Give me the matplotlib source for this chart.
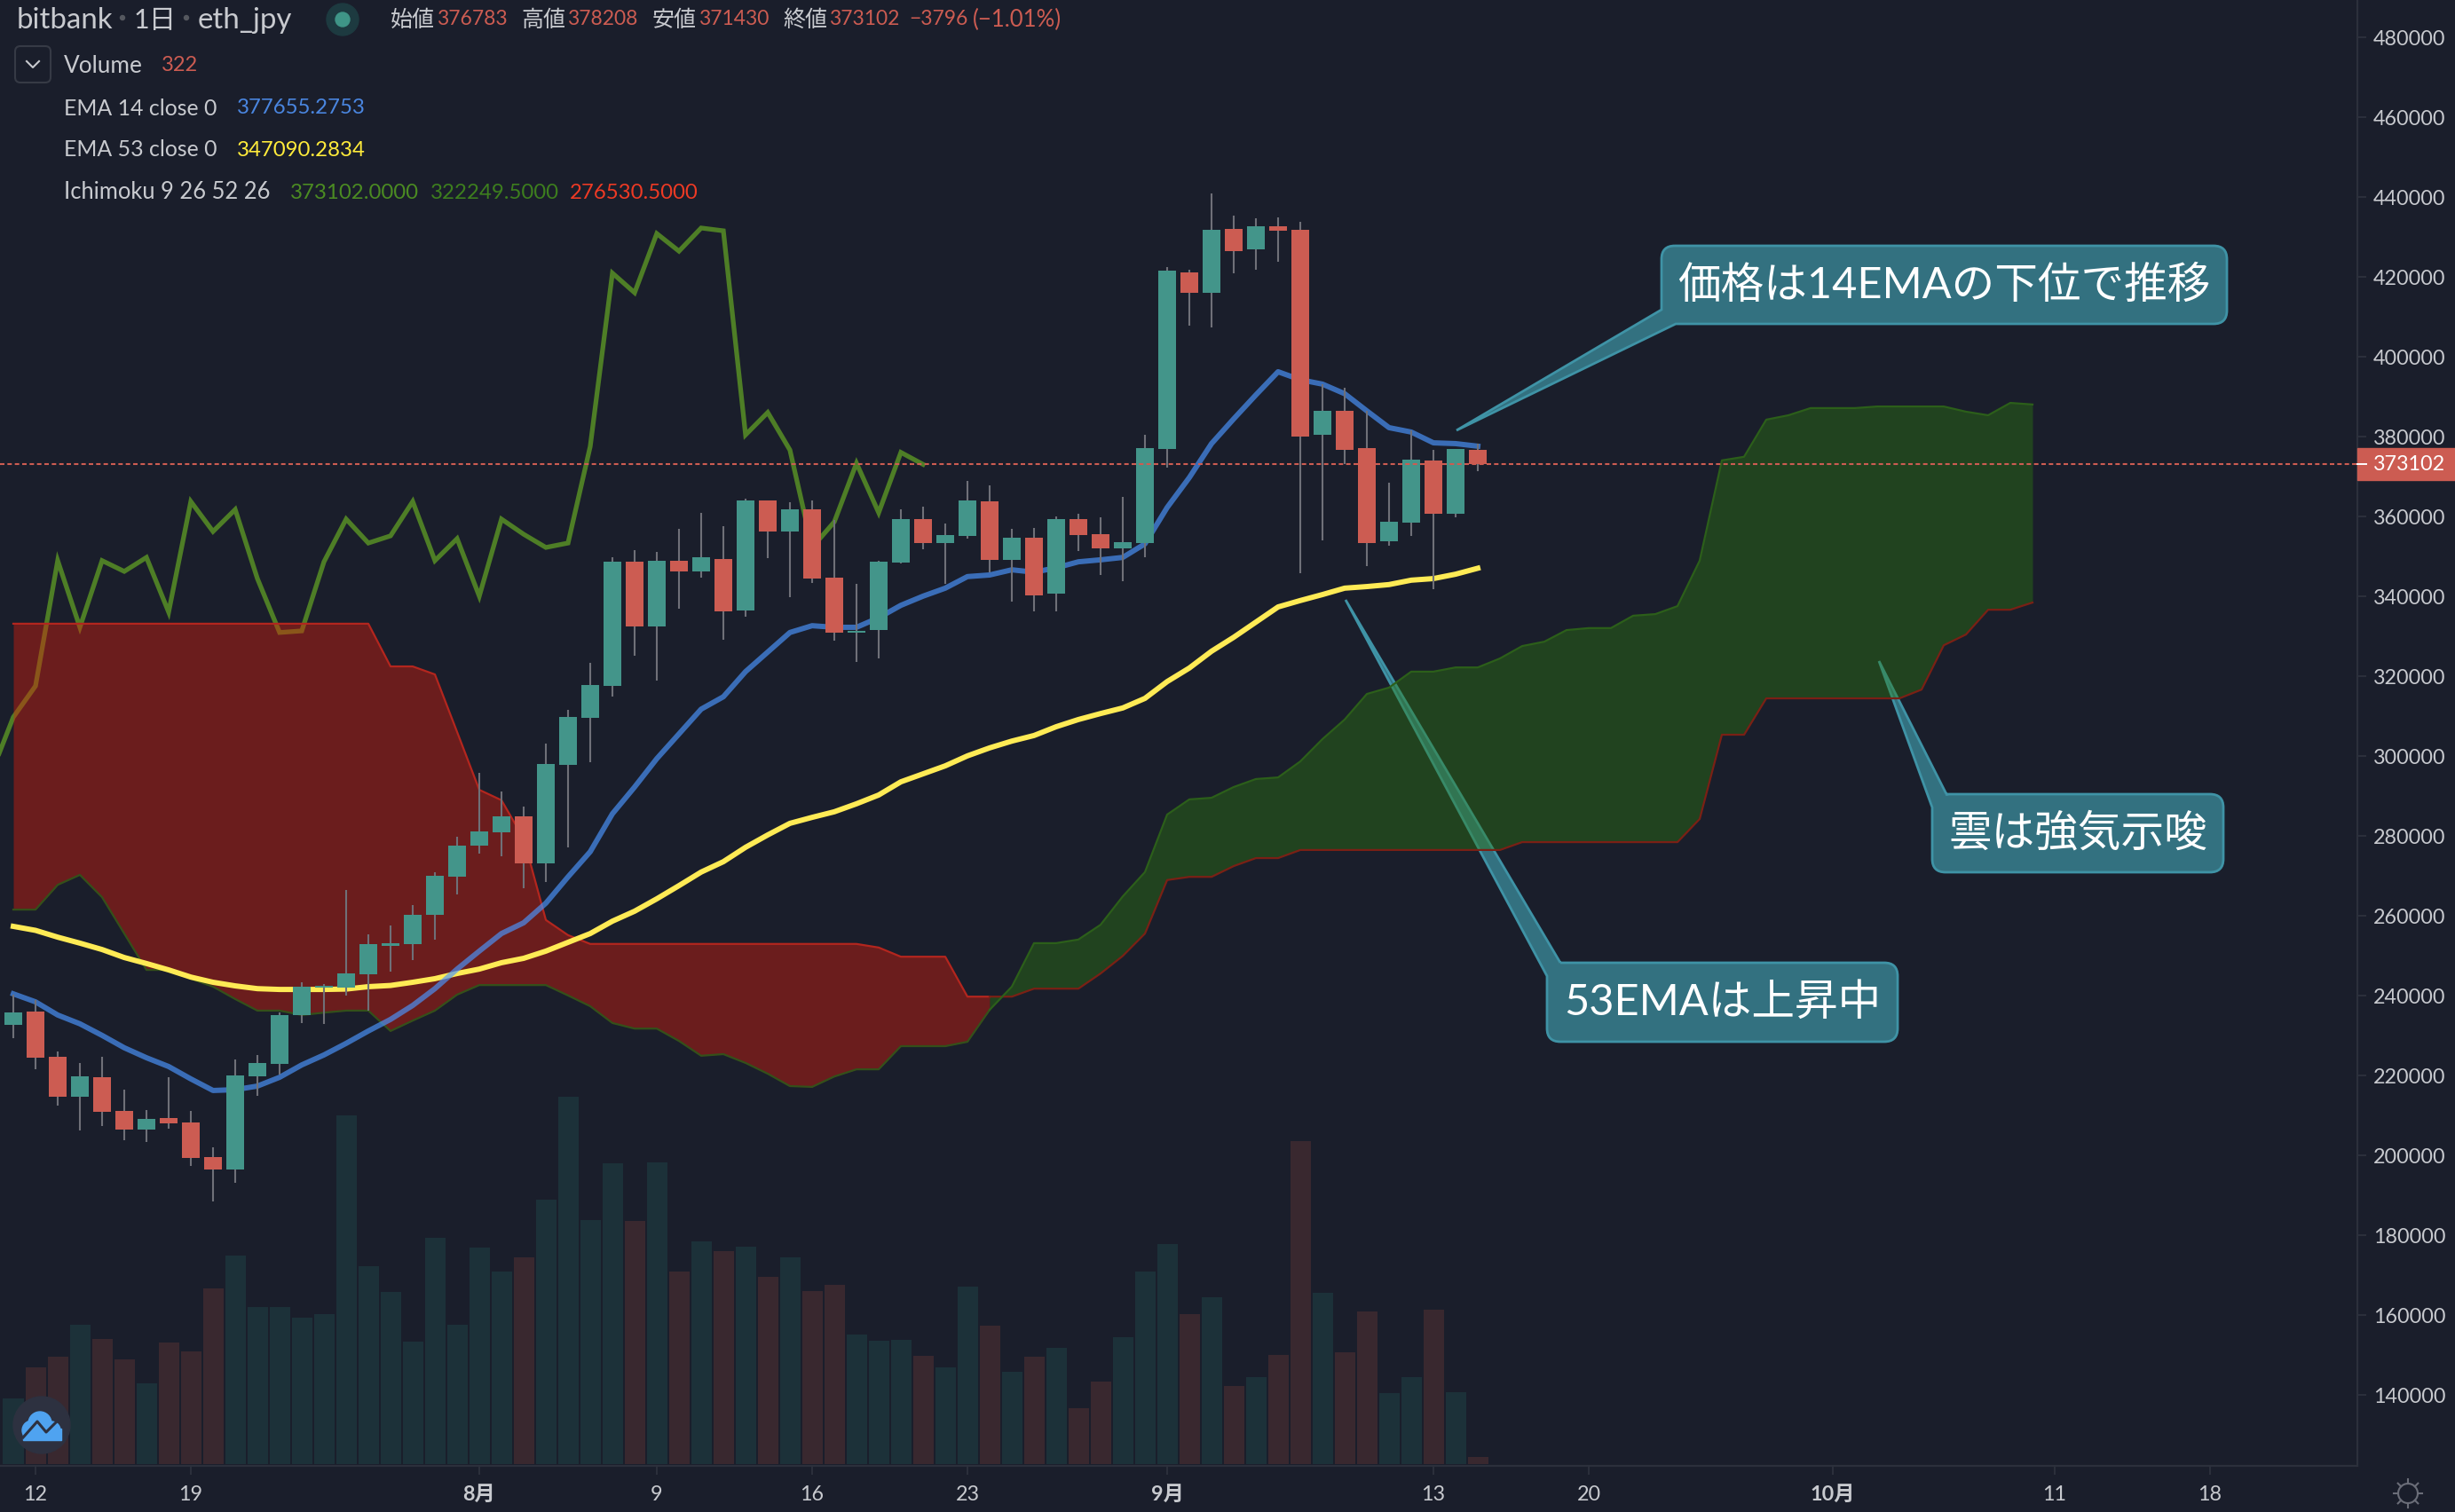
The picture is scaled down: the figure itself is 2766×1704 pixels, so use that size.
import numpy as np
import matplotlib
matplotlib.use('Agg')
import matplotlib.pyplot as plt
import matplotlib.patches as patches
from matplotlib.path import Path
from matplotlib.transforms import Affine2D

plt.rcParams['font.family'] = ['Lato', 'Noto Sans CJK JP', 'DejaVu Sans']

W, H = 2766, 1704
BG = '#1a1e2b'
UP = '#43958a'
DOWN = '#cc5c52'
TXT = '#c8cacf'

# daily candles, index 0 is 11 Jul
opens = [232700, 236100, 224700, 214700, 219600, 211200, 206500, 209400, 208300, 199600,
         196500, 219800, 223000, 235200, 242100, 242100, 245400, 252500, 253000, 260300,
         269800, 277600, 281000, 285000, 273200, 297800, 309600, 317600, 348700, 332500,
         348900, 346300, 349400, 336500, 364100, 356300, 361900, 344700, 331000, 331600,
         348500, 359400, 353400, 355200, 363800, 349200, 354700, 340700, 359400, 355600,
         352100, 353300, 376900, 421200, 416000, 432000, 426900, 432700, 431800, 380500,
         386500, 377200, 353800, 358500, 374100, 360700, 376783]
highs = [240300, 239000, 226100, 223200, 224700, 216500, 211400, 219600, 211200, 202100,
         224100, 225200, 235800, 243400, 243000, 266500, 255400, 257600, 262700, 271000,
         279800, 295800, 291200, 287400, 303200, 311600, 323400, 349800, 351600, 351200,
         356900, 361000, 357600, 364500, 364100, 363600, 364100, 359200, 343200, 348900,
         361900, 362500, 358300, 369000, 367800, 356900, 357200, 360100, 360700, 359800,
         364900, 380500, 422500, 421800, 441000, 435400, 434700, 434900, 433800, 393200,
         392300, 386500, 368500, 381600, 376700, 376900, 378208]
lows = [229400, 221600, 212500, 206300, 207400, 203800, 203400, 206800, 197400, 188500,
        193200, 214900, 220300, 233200, 233000, 240100, 236300, 246100, 249000, 254000,
        265400, 275600, 275000, 267000, 268500, 277200, 298500, 314900, 325200, 319000,
        337000, 344700, 329200, 335000, 349600, 339800, 343400, 329000, 323700, 324500,
        348300, 351800, 343200, 354500, 346000, 338700, 336300, 336300, 351400, 345400,
        343800, 349900, 372300, 407900, 407400, 421000, 421800, 423800, 345900, 354100,
        373200, 347600, 352700, 355200, 341800, 359900, 371430]
closes = [235800, 224500, 214700, 219800, 211000, 206500, 209200, 208100, 199400, 196500,
          220100, 223200, 235200, 242300, 242500, 245600, 253000, 253200, 260300, 270100,
          277600, 281200, 285000, 273200, 298100, 309800, 317800, 348700, 332500, 348900,
          346300, 349800, 336300, 364100, 356300, 361900, 344500, 331000, 331400, 348700,
          359400, 353400, 355400, 364100, 349200, 354700, 340300, 359400, 355400, 352100,
          353600, 377200, 421600, 416000, 431800, 426500, 432700, 431600, 380100, 386500,
          376700, 353400, 358700, 374300, 360700, 376900, 373102]
volume = [2960, 4360, 4840, 6280, 5640, 4720, 3640, 5480, 5080, 7920,
          9400, 7080, 7080, 6600, 6760, 15720, 8920, 7760, 5520, 10200,
          6280, 9760, 8680, 9320, 11920, 16560, 11000, 13560, 10960, 13600,
          8680, 10040, 9600, 9800, 8440, 9320, 7800, 8080, 5840, 5560,
          5600, 4880, 4360, 8000, 6240, 4160, 4840, 5240, 2520, 3720,
          5720, 8680, 9920, 6760, 7520, 3520, 3920, 4920, 14560, 7720,
          5040, 6880, 3200, 3920, 6960, 3240, 322]

ema14 = [240500, 238500, 235200, 233000, 230100, 227000, 224500, 222300, 219200, 216300,
         216500, 217400, 219600, 222700, 225200, 228100, 231200, 234100, 237600, 241800,
         246700, 251200, 255600, 258300, 263200, 269800, 276100, 285600, 292300, 299400,
         305600, 311800, 314900, 321200, 326100, 331000, 332700, 332300, 332300, 334700,
         337800, 340100, 342100, 345000, 345400, 346700, 346100, 347200, 348700, 349200,
         349800, 353200, 362300, 369800, 378300, 384500, 390500, 396300, 394300, 393200,
         390800, 386500, 382300, 381200, 378500, 378300, 377655]
ema53 = [257400, 256400, 254700, 253200, 251600, 249600, 248100, 246500, 244700, 243400,
         242500, 241800, 241600, 241600, 241600, 241700, 242300, 242600, 243400, 244300,
         245600, 246700, 248300, 249400, 251200, 253400, 255600, 258700, 261200, 264300,
         267600, 271000, 273600, 277200, 280300, 283200, 284700, 286100, 288100, 290300,
         293600, 295600, 297600, 300100, 302100, 303800, 305200, 307400, 309200, 310700,
         312100, 314500, 318700, 322100, 326300, 329800, 333600, 337400, 339000, 340500,
         342100, 342500, 343000, 344100, 344500, 345600, 347090]

# lagging span starts one bar left of the first candle
chikou = [295600, 309800, 317600, 349000, 332300, 349000, 346300, 349800, 336100, 363800,
          356300, 361800, 344500, 331000, 331400, 348700, 359400, 353400, 355200, 363800,
          349000, 354500, 340100, 359400, 355600, 352300, 353400, 377600, 421000, 416100,
          430900, 426500, 432300, 431600, 380500, 386100, 376700, 352300, 358700, 373400,
          361000, 376100, 373102]
lead_a = [261600, 261600, 267800, 270300, 264700, 255600, 246500, 246500, 244300, 242300,
          239200, 236300, 236300, 235200, 235800, 236300, 236300, 231200, 233800, 236300,
          240300, 242700, 242700, 242700, 242700, 240100, 237400, 233200, 231800, 231800,
          228700, 225000, 225400, 223200, 220500, 217400, 217200, 219800, 221600, 221600,
          227400, 227400, 227400, 228500, 236500, 242300, 253200, 253200, 254100, 257800,
          264900, 271000, 285400, 289200, 289600, 292300, 294300, 294700, 298700, 304300,
          309200, 315600, 317200, 321200, 321200, 322249, 322249, 324500, 327600, 328700,
          331600, 332100, 332100, 335200, 335600, 337600, 349000, 374100, 375000, 384300,
          385400, 387200, 387200, 387200, 387600, 387600, 387600, 387600, 386300, 385400,
          388500, 388100]
lead_b = [333200, 333200, 333200, 333200, 333200, 333200, 333200, 333200, 333200, 333200,
          333200, 333200, 333200, 333200, 333200, 333200, 333200, 322500, 322500, 320500,
          306100, 291600, 289000, 279400, 259000, 255200, 253000, 253000, 253000, 253000,
          253000, 253000, 253000, 253000, 253000, 253000, 253000, 253000, 253000, 252100,
          249800, 249800, 249800, 239800, 239800, 239800, 241800, 241800, 241800, 245600,
          250000, 255600, 269000, 269800, 269800, 272500, 274500, 274500, 276530, 276530,
          276530, 276530, 276530, 276530, 276530, 276530, 276530, 276530, 278500, 278500,
          278500, 278500, 278500, 278500, 278500, 278500, 284300, 305400, 305400, 314500,
          314500, 314500, 314500, 314500, 314500, 314500, 316700, 327800, 330500, 336700,
          336700, 338500]
last_price = 373102

price_ticks = np.arange(140000, 480001, 20000)
date_ticks = [1, 8, 21, 29, 36, 43, 52, 64, 71, 82, 92, 99]
date_labels = ['12', '19', '8月', '9', '16', '23', '9月', '13', '20', '10月', '11', '18']

fig = plt.figure(figsize=(W / 100, H / 100), dpi=100, facecolor=BG)
# everything not tied to the scales is placed in reference pixels
px = Affine2D().scale(1, -1).translate(0, H)
rect = [0, (H - 1652) / H, 2656 / W, 1652 / H]

ax_vol = fig.add_axes(rect, zorder=0)
ax = fig.add_axes(rect, zorder=1)
ax.patch.set_visible(False)
ax_vol.set_facecolor(BG)
ax_vol.axis('off')
ax_vol.set_xlim(-0.6, 105.64)
ax_vol.set_ylim(-80, 66000)
ax.set_xlim(-0.6, 105.64)
ax.set_ylim(122289, 489400)

x = np.arange(len(closes))
is_up = np.array(closes) >= np.array(opens)

ax_vol.bar(x, volume, width=0.92, color=np.where(is_up, '#1c3139', '#39282f'), linewidth=0)

# callouts sit under the cloud, the cloud tints their tails
def callout(x0, y0, x1, y1, corner, a, b, tip, label, size):
    r = 15
    v = [(x0 + r, y0), (x1 - r, y0), (x1, y0), (x1, y0 + r), (x1, y1 - r), (x1, y1), (x1 - r, y1)]
    c = [Path.MOVETO, Path.LINETO, Path.CURVE3, Path.CURVE3, Path.LINETO, Path.CURVE3, Path.CURVE3]
    if corner == 'bl':
        v += [(b, y1), tip, (x0, a), (x0, y0 + r), (x0, y0), (x0 + r, y0)]
        c += [Path.LINETO, Path.LINETO, Path.LINETO, Path.LINETO, Path.CURVE3, Path.CURVE3]
    else:
        v += [(x0 + r, y1), (x0, y1), (x0, y1 - r), (x0, a), tip, (b, y0), (x0 + r, y0)]
        c += [Path.LINETO, Path.CURVE3, Path.CURVE3, Path.LINETO, Path.LINETO, Path.LINETO, Path.LINETO]
    ax.add_patch(patches.PathPatch(Path(v, c), facecolor='#337180', edgecolor='#3f93a6',
                                   linewidth=2, transform=px, zorder=1.5, clip_on=False))
    ax.text((x0 + x1) / 2, (y0 + y1) / 2, label, color='white', fontsize=size, ha='center',
            va='center', transform=px, zorder=6)

callout(1872, 277, 2509, 365, 'bl', 349, 1888, (1641, 485), '価格は14EMAの下位で推移', 35)
callout(1743, 1085, 2138, 1174, 'tl', 1100, 1758, (1516, 676), '53EMAは上昇中', 35)
callout(2177, 895, 2505, 983, 'tl', 910, 2193, (2117, 745), '雲は強気示唆', 35)

ax.plot(np.arange(-1, len(chikou) - 1), chikou, color='#4e7e26', lw=3.8, zorder=2,
        solid_joinstyle='miter')

# the sign of the cloud flips at bar 44
xc = np.arange(len(lead_a))
ax.fill_between(xc[:45], lead_a[:45], lead_b[:45], color=(230 / 255, 28 / 255, 10 / 255),
                alpha=0.4, linewidth=0, zorder=3)
ax.fill_between(xc[44:], lead_a[44:], lead_b[44:], color=(46 / 255, 125 / 255, 13 / 255),
                alpha=0.4, linewidth=0, zorder=3)
ax.plot(xc[:45], lead_b[:45], color='#b3261e', lw=1.6, zorder=3.1)
ax.plot(xc[44:], lead_b[44:], color='#7a2015', lw=1.6, zorder=3.1)
ax.plot(xc[:45], lead_a[:45], color='#34501a', lw=1.6, zorder=3.1)
ax.plot(xc[44:], lead_a[44:], color='#2c5f1a', lw=1.6, zorder=3.1)

# the EMAs stay on top of the cloud, the blue one is see-through
ax.plot(x, ema53, color='#ffeb55', lw=4.3, zorder=3.3)
ax.plot(x, ema14, color='#4b95fd', alpha=0.67, lw=4.3, zorder=3.4)

ax.vlines(x, lows, highs, color='#6f7078', lw=1.5, zorder=4)
ax.bar(x, np.abs(np.array(closes) - np.array(opens)), bottom=np.minimum(opens, closes), width=0.8,
       color=np.where(is_up, UP, DOWN), linewidth=0, zorder=4.5)

ax.axhline(last_price, color=DOWN, lw=1.5, dashes=(2.4, 1.6), zorder=5)

ax.yaxis.tick_right()
ax.set_yticks(price_ticks)
ax.set_yticklabels([str(v) for v in price_ticks], fontsize=16.8, color=TXT)
ax.set_xticks(date_ticks)
ax.set_xticklabels(date_labels, fontsize=16.8, color=TXT)
for lab in ax.get_xticklabels():
    if '月' in lab.get_text():
        lab.set_fontweight('bold')
ax.tick_params(axis='y', length=7, width=1.4, color='#2c303c', pad=6)
ax.tick_params(axis='x', length=7, width=1.4, color='#2c303c', pad=9)
for s in ['top', 'left']:
    ax.spines[s].set_visible(False)
for s in ['right', 'bottom']:
    ax.spines[s].set_color('#2c303c')
    ax.spines[s].set_linewidth(1.6)

# last price tag on the scale
fig.add_artist(patches.Rectangle((2656, 505), 110, 36, color=DOWN, transform=px, zorder=10))
fig.add_artist(plt.Line2D([2656, 2666], [523, 523], color='white', lw=1.4, transform=px, zorder=11))
fig.text(2674, 523, str(last_price), color='white', fontsize=16.8, va='center', transform=px, zorder=11)


def label(x0, y0, s, color=TXT, size=17, **kw):
    fig.text(x0, y0, s, color=color, fontsize=size, va='center', transform=px, zorder=11, **kw)


label(19, 23, 'bitbank', size=23.8)
label(151, 23, '1日', size=22)
label(223, 23, 'eth_jpy', size=23.8)
for dot in [138, 210]:
    fig.add_artist(patches.Circle((dot, 20), 2.5, color='#55585f', transform=px, zorder=11))
fig.add_artist(patches.Circle((386, 22), 18, color='#1d3a40', transform=px, zorder=11))
fig.add_artist(patches.Circle((386, 22), 8, color='#3f9587', transform=px, zorder=12))

label(440, 22, '始値', size=18)
label(492, 22, '376783', DOWN, 16.5)
label(587, 22, '高値', size=18)
label(639, 22, '378208', DOWN, 16.5)
label(735, 22, '安値', size=18)
label(787, 22, '371430', DOWN, 16.5)
label(882, 22, '終値', size=18)
label(934, 22, '373102', DOWN, 16.5)
label(1024, 22, '−3796', DOWN, 16.5)
label(1096, 22, '(−1.01%)', DOWN, 18.5)

fig.add_artist(patches.FancyBboxPatch((17, 52), 40, 41, boxstyle='round,pad=0,rounding_size=6',
                                      facecolor='none', edgecolor='#363a45', lw=1.5,
                                      transform=px, zorder=11))
fig.add_artist(plt.Line2D([30, 37, 44], [69, 76, 69], color=TXT, lw=1.5, transform=px, zorder=11))

label(72, 74, 'Volume', size=18.8)
label(182, 74, '322', DOWN)
label(72, 122, 'EMA 14 close 0', size=17.9)
label(267, 122, '377655.2753', '#4a86e0', 17.3)
label(72, 169, 'EMA 53 close 0', size=17.9)
label(267, 169, '347090.2834', '#ffeb3b', 17.3)
label(72, 217, 'Ichimoku 9 26 52 26', size=18.4)
label(327, 217, '373102.0000', '#4b8b22', 17.3)
label(485, 217, '322249.5000', '#3d7e1e', 17.3)
label(642, 217, '276530.5000', '#ee3a24', 17.3)

# logo, bottom left
fig.add_artist(patches.Circle((47, 1606), 32, color='#2d3140', transform=px, zorder=11))
for cx, cy, r in [(36, 1612, 11), (45, 1604, 13), (58, 1612, 10)]:
    fig.add_artist(patches.Circle((cx, cy), r, color='#4fa3f0', transform=px, zorder=12))
fig.add_artist(patches.Rectangle((26, 1610), 43, 13, color='#4fa3f0', transform=px, zorder=12))
fig.add_artist(plt.Line2D([26, 42, 52, 68], [1620, 1602, 1614, 1598], color='#2d3140', lw=2.2,
                          transform=px, zorder=13))

# settings gear, bottom right
fig.add_artist(patches.Circle((2713, 1683), 11, facecolor='none', edgecolor='#6a6d78', lw=1.5,
                              transform=px, zorder=11))
for ang in np.arange(0, 2 * np.pi, np.pi / 4):
    fig.add_artist(plt.Line2D([2713 + 11 * np.cos(ang), 2713 + 16 * np.cos(ang)],
                              [1683 + 11 * np.sin(ang), 1683 + 16 * np.sin(ang)],
                              color='#6a6d78', lw=1.5, transform=px, zorder=11))

fig.savefig('out.png', dpi=100, facecolor=BG)
